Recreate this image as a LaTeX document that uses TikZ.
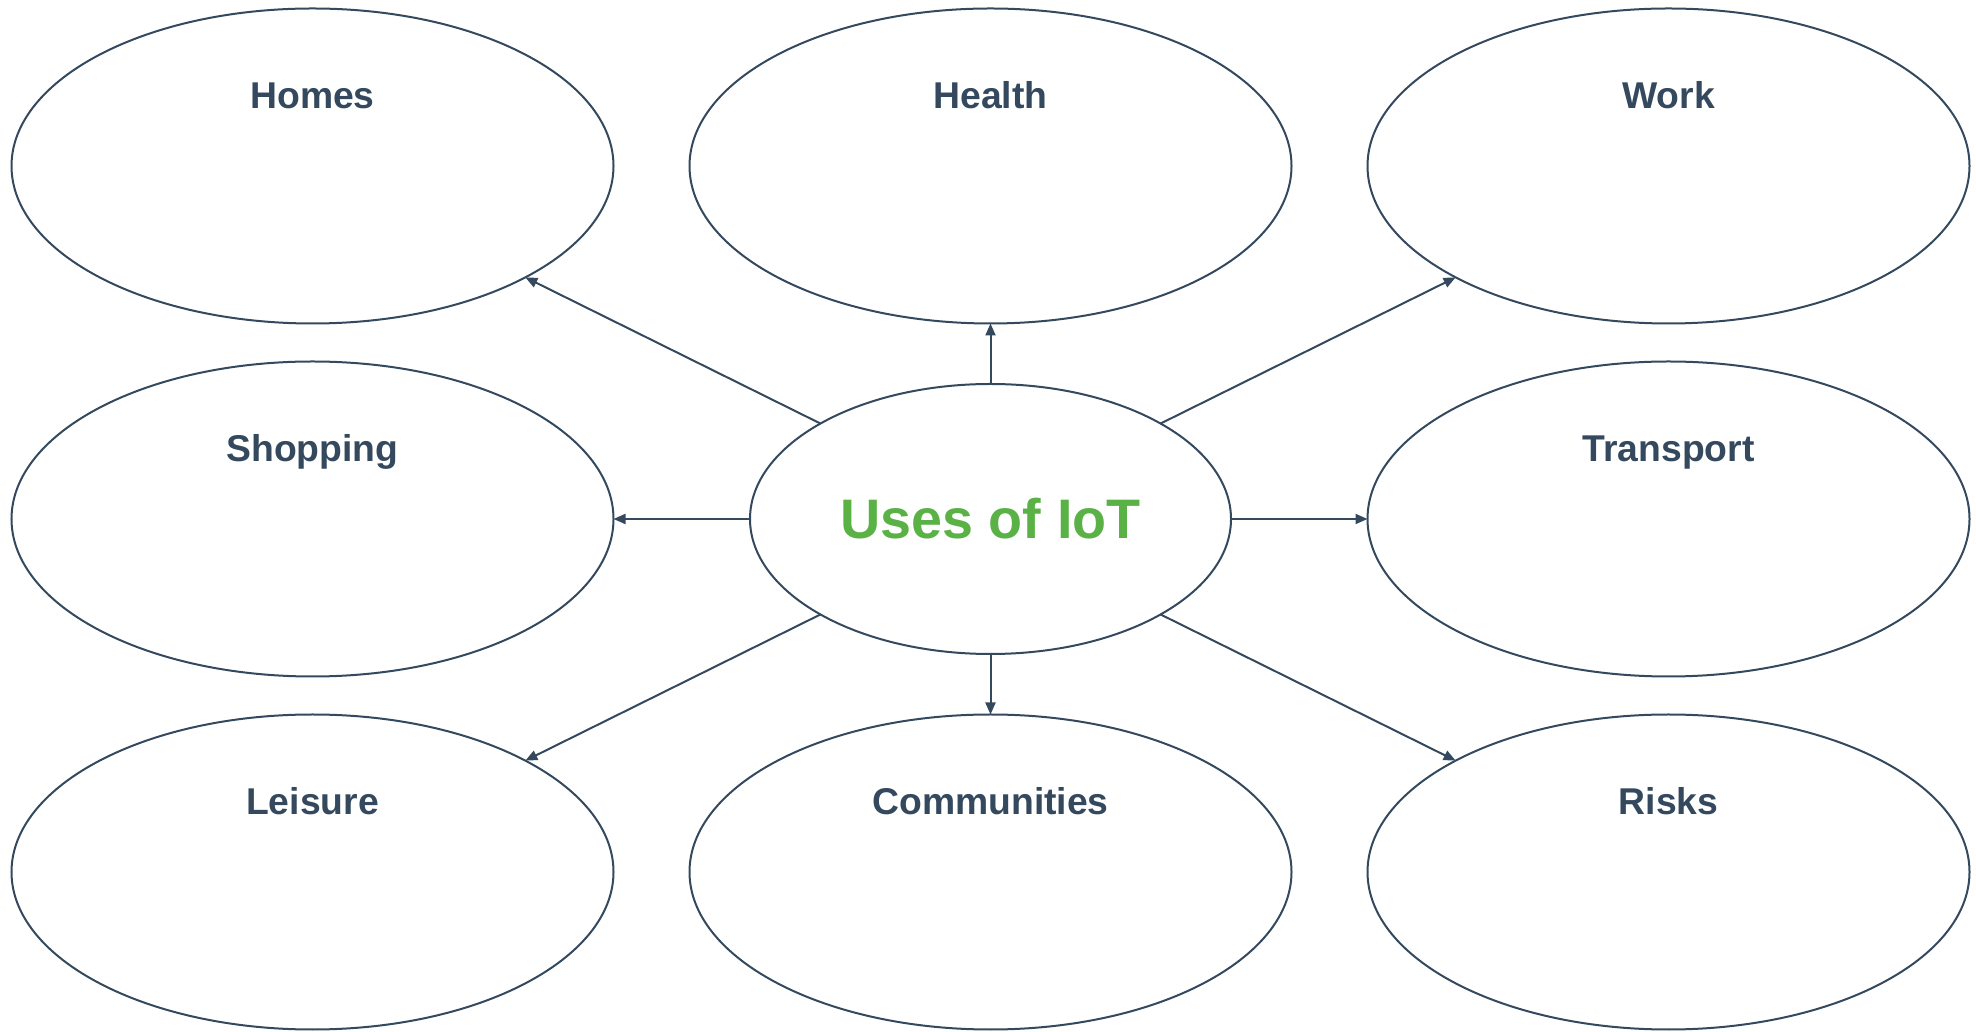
\documentclass[tikz,border=0pt]{standalone}
\usepackage{fontspec}
\setmainfont{Liberation Sans}
\usetikzlibrary{shapes.geometric,arrows.meta}
\definecolor{slate}{HTML}{34495E}
\definecolor{leaf}{HTML}{5AB246}
\begin{document}
\begin{tikzpicture}[x=1pt,y=1pt,
  topic/.style={ellipse,draw=slate,line width=2pt,minimum width=602pt,minimum height=315pt,inner sep=0pt,outer sep=0pt},
  hub/.style={ellipse,draw=slate,line width=2pt,minimum width=481pt,minimum height=270pt,inner sep=0pt,outer sep=0pt},
  title/.style={text=slate,font=\bfseries\fontsize{37.3}{42}\selectfont,inner sep=0pt,anchor=base},
  link/.style={draw=slate,line width=2pt,-{Triangle[length=12pt,width=10pt]}}]
\useasboundingbox (0,0) rectangle (1976,1031);
% outer topics: columns 312.5 / 990.5 / 1668.5, rows 865 / 512 / 159 (from the bottom)
\node[topic] (homes) at (312.5,865) {};
\node[topic] (health) at (990.5,865) {};
\node[topic] (work) at (1668.5,865) {};
\node[topic] (shopping) at (312.5,512) {};
\node[topic] (transport) at (1668.5,512) {};
\node[topic] (leisure) at (312.5,159) {};
\node[topic] (communities) at (990.5,159) {};
\node[topic] (risks) at (1668.5,159) {};
% central hub
\node[hub] (iot) at (990.5,512) {};
\node[text=leaf,font=\bfseries\fontsize{55.7}{60}\selectfont,inner sep=0pt] (iottext) at (iot.center) {Uses of IoT};
% topic titles, all on the same baseline above their centres
\foreach \n/\t in {homes/Homes,health/Health,work/Work,shopping/Shopping,transport/Transport,leisure/Leisure,communities/Communities,risks/Risks}
  \node[title] (\n-t) at ([yshift=57pt]\n.center) {\t};
% connectors
\draw[link] (iot.north west) -- (homes.south east);
\draw[link] (iot.north) -- (health.south);
\draw[link] (iot.north east) -- (work.south west);
\draw[link] (iot.west) -- (shopping.east);
\draw[link] (iot.east) -- (transport.west);
\draw[link] (iot.south west) -- (leisure.north east);
\draw[link] (iot.south) -- (communities.north);
\draw[link] (iot.south east) -- (risks.north west);
\end{tikzpicture}
\end{document}
